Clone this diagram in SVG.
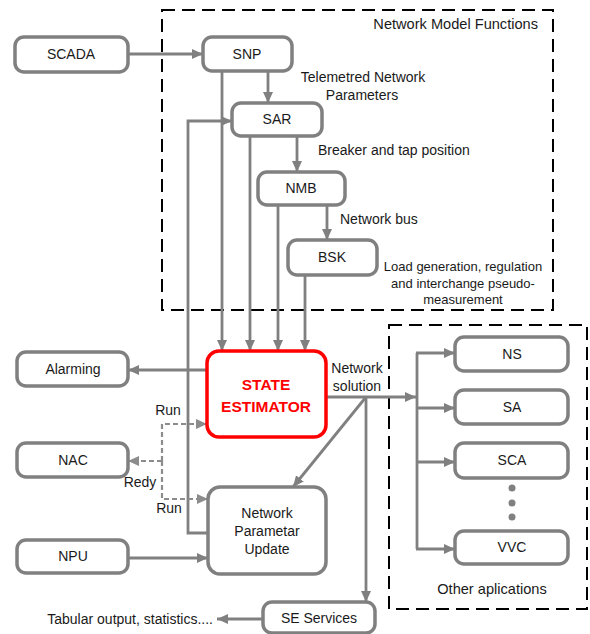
<svg xmlns="http://www.w3.org/2000/svg" width="590" height="634" viewBox="0 0 590 634">
<defs>
<marker id="ah" markerUnits="userSpaceOnUse" markerWidth="12" markerHeight="10" refX="11" refY="5" orient="auto">
<path d="M0,0 L11,5 L0,10 z" fill="#808080"/>
</marker>
<marker id="ahd" markerUnits="userSpaceOnUse" markerWidth="12" markerHeight="10" refX="11" refY="5" orient="auto">
<path d="M0,0 L11,5 L0,10 z" fill="#8c8c8c"/>
</marker>
<style>
.box{fill:#fff;stroke:#808080;stroke-width:3.5}
.se{fill:#fff;stroke:#ff0000;stroke-width:3.5}
.ln{fill:none;stroke:#808080;stroke-width:2.8}
.arr{fill:none;stroke:#808080;stroke-width:2.8;marker-end:url(#ah)}
.dsh{fill:none;stroke:#8c8c8c;stroke-width:2.2;stroke-dasharray:5 3}
.grp{fill:none;stroke:#000;stroke-width:2;stroke-dasharray:13 7}
text{font-family:"Liberation Sans",Arial,sans-serif;font-size:14px;fill:#1a1a1a}
.c{text-anchor:middle}
.sm{font-size:13px}
.lg{font-size:14.6px}
.set{font-weight:bold;font-size:15.5px;fill:#ff0000;text-anchor:middle}
</style>
</defs>
<g id="groups">
<rect class="grp" x="162" y="10" width="391" height="300"/>
<rect class="grp" x="389" y="325" width="198" height="284"/>
<text x="538" y="29" text-anchor="end" class="lg">Network Model Functions</text>
<text x="492" y="594" class="c lg">Other aplications</text>
</g>
<g id="connectors">
<path class="arr" d="M128,54 L203,54"/>
<path class="arr" d="M268,71 L268,103"/>
<path class="arr" d="M297,136 L297,172"/>
<path class="arr" d="M327,205 L327,240"/>
<path class="arr" d="M222,71 L222,351"/>
<path class="arr" d="M250,136 L250,351"/>
<path class="arr" d="M278,205 L278,351"/>
<path class="arr" d="M305,275 L305,351"/>
<path class="arr" d="M208,533 L188,533 L188,121 L232,121"/>
<path class="arr" d="M207,370 L128,370"/>
<path class="dsh" d="M162,461 L162,424 L207,424" marker-end="url(#ahd)"/>
<path class="dsh" d="M162,461 L162,499 L208,499" marker-end="url(#ahd)"/>
<path class="dsh" d="M162,461 L128,461" marker-end="url(#ahd)"/>
<path class="arr" d="M128,558 L208,558"/>
<path class="arr" d="M326,397 L416,397"/>
<path class="ln" d="M417,353 L417,549"/>
<path class="arr" d="M416,353 L455,353"/>
<path class="arr" d="M416,408 L455,408"/>
<path class="arr" d="M416,462 L455,462"/>
<path class="arr" d="M416,549 L455,549"/>
<path class="arr" d="M366,397 L366,602"/>
<path class="arr" d="M366,397 L293,487"/>
<path class="arr" d="M263,619 L217,619"/>
<text x="363" y="82" class="c">Telemetred Network</text>
<text x="362" y="100" class="c">Parameters</text>
<text x="318" y="155">Breaker and tap position</text>
<text x="340" y="224">Network bus</text>
<text x="463" y="271" class="c sm">Load generation, regulation</text>
<text x="463" y="288" class="c sm">and interchange pseudo-</text>
<text x="463" y="304" class="c sm">measurement</text>
<text x="357" y="373" class="c">Network</text>
<text x="357" y="391" class="c">solution</text>
<text x="168" y="415" class="c">Run</text>
<text x="140" y="487" class="c">Redy</text>
<text x="169" y="513" class="c">Run</text>
<text x="213" y="624" text-anchor="end">Tabular output, statistics....</text>
</g>
<g id="SCADA"><rect class="box" x="15" y="37" width="113" height="35" rx="9"/><text x="71" y="59" class="c">SCADA</text></g>
<g id="SNP"><rect class="box" x="203" y="37" width="89" height="34" rx="9"/><text x="247" y="59" class="c">SNP</text></g>
<g id="SAR"><rect class="box" x="232" y="103" width="90" height="33" rx="9"/><text x="277" y="124" class="c">SAR</text></g>
<g id="NMB"><rect class="box" x="258" y="172" width="87" height="33" rx="9"/><text x="301" y="193" class="c">NMB</text></g>
<g id="BSK"><rect class="box" x="288" y="240" width="89" height="35" rx="9"/><text x="332" y="262" class="c">BSK</text></g>
<g id="SE"><rect class="se" x="207" y="351" width="119" height="86" rx="12"/><text x="266" y="390" class="set">STATE</text><text x="266" y="412" class="set">ESTIMATOR</text></g>
<g id="Alarming"><rect class="box" x="17" y="352" width="111" height="34" rx="9"/><text x="73" y="374" class="c">Alarming</text></g>
<g id="NAC"><rect class="box" x="17" y="443" width="111" height="34" rx="9"/><text x="73" y="465" class="c">NAC</text></g>
<g id="NPUpdate"><rect class="box" x="208" y="487" width="118" height="87" rx="12"/><text x="267" y="518" class="c">Network</text><text x="267" y="536" class="c">Parametar</text><text x="267" y="554" class="c">Update</text></g>
<g id="NPU"><rect class="box" x="17" y="540" width="111" height="33" rx="9"/><text x="73" y="561" class="c">NPU</text></g>
<g id="SEServices"><rect class="box" x="263" y="602" width="112" height="31" rx="9"/><text x="319" y="623" class="c">SE Services</text></g>
<g id="NS"><rect class="box" x="455" y="337" width="113" height="34" rx="9"/><text x="512" y="359" class="c">NS</text></g>
<g id="SA"><rect class="box" x="455" y="390" width="113" height="34" rx="9"/><text x="512" y="412" class="c">SA</text></g>
<g id="SCA"><rect class="box" x="455" y="443" width="113" height="35" rx="9"/><text x="512" y="465" class="c">SCA</text></g>
<g id="dots"><circle cx="512" cy="488" r="3.5" fill="#808080"/><circle cx="512" cy="503" r="3.5" fill="#808080"/><circle cx="512" cy="517" r="3.5" fill="#808080"/></g>
<g id="VVC"><rect class="box" x="455" y="531" width="113" height="33" rx="9"/><text x="512" y="552" class="c">VVC</text></g>
</svg>
